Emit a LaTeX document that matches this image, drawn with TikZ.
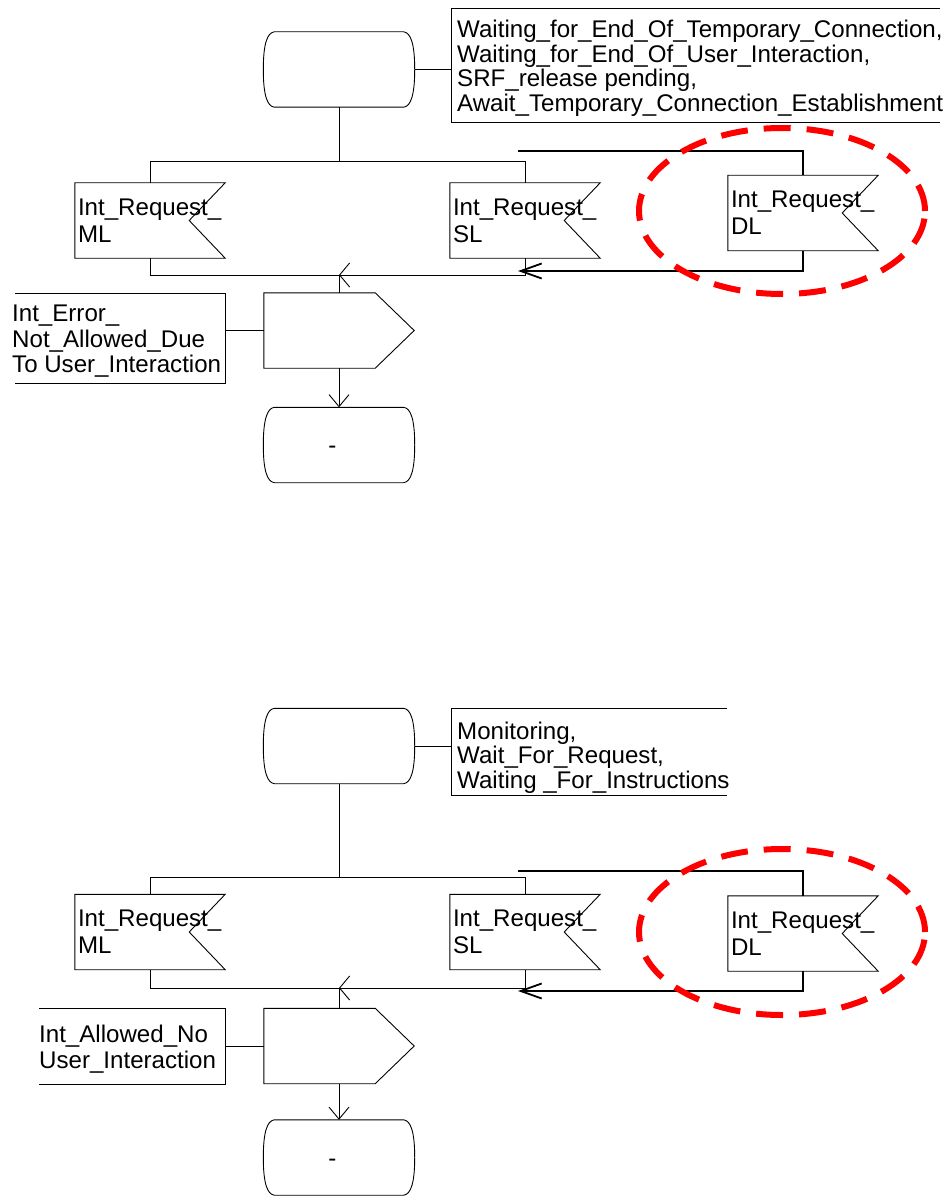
\documentclass[tikz,border=0pt]{standalone}
\usepackage{fontspec}
\setmainfont{Liberation Sans}
\usetikzlibrary{arrows.meta,calc}

\tikzset{
  every node/.style={font=\fontsize{24.1}{24.6}\selectfont},
  ln/.style={line width=0.9pt, draw=black},
  dl/.style={line width=1.8pt, draw=black},
  statebox/.style={minimum width=151pt, minimum height=75pt, inner sep=0pt,
    text height=17pt, text depth=0pt},
  frm/.style={anchor=north west, inner sep=0pt},
  cmtxt/.style={align=left, inner sep=0pt, anchor=west},
  etxt/.style={cmtxt, font=\fontsize{24.1}{25.5}\selectfont},
  insym/.style={align=left, text width=144pt, inner xsep=3pt, inner ysep=0pt,
    minimum height=75pt, font=\fontsize{24.1}{27}\selectfont},
  outsym/.style={minimum width=150pt, minimum height=75pt, inner sep=0pt},
  downarr/.style={-{Straight Barb[length=12pt,width=20pt]}},
  mergearr/.style={-{Straight Barb[length=10pt,width=24pt]}},
  retarr/.style={-{Straight Barb[length=21pt,width=15pt]}},
  hilite/.style={draw=red, line width=6pt, dash pattern=on 27pt off 16pt},
}

\newcommand\StateSym[4]{%
  \node[statebox] (#1) at (#2,#3) {#4};
  \draw[ln] ($(#1.north west)+(11,0)$) -- ($(#1.north east)+(-11,0)$)
    .. controls ($(#1.north east)+(-4,1)$) and ($(#1.east)+(0,-26)$) .. (#1.east)
    .. controls ($(#1.east)+(0,26)$) and ($(#1.south east)+(-4,-1)$) .. ($(#1.south east)+(-11,0)$)
    -- ($(#1.south west)+(11,0)$)
    .. controls ($(#1.south west)+(4,-1)$) and ($(#1.west)+(0,26)$) .. (#1.west)
    .. controls ($(#1.west)+(0,-26)$) and ($(#1.north west)+(4,1)$) .. cycle;}
\newcommand\InSym[4]{%
  \node[insym] (#1) at (#2,#3) {#4};
  \draw[ln] (#1.north west) -- (#1.north east) -- ([xshift=-36pt]#1.east)
    -- (#1.south east) -- (#1.south west) -- cycle;}
\newcommand\OutSym[3]{%
  \node[outsym] (#1) at (#2,#3) {};
  \draw[ln] (#1.north west) -- ([xshift=-39pt]#1.north east) -- (#1.east)
    -- ([xshift=-39pt]#1.south east) -- (#1.south west) -- cycle;}

\begin{document}
\begin{tikzpicture}[x=1pt,y=-1pt]
\useasboundingbox (0,0) rectangle (950,1198);

% ================= upper diagram =================
\StateSym{st1}{339}{69.5}{}
\node[frm, minimum width=489pt, minimum height=114pt] (c1) at (451,8) {};
\node[cmtxt] (c1t) at ($(c1.west)+(6,3)$)
  {Waiting\_for\_End\_Of\_Temporary\_Connection,\\
   Waiting\_for\_End\_Of\_User\_Interaction,\\
   SRF\_release pending,\\
   Await\_Temporary\_Connection\_Establishment};
\draw[ln] (c1.north east) -- (c1.north west) -- (c1.south west) -- (c1.south east);
\draw[ln] (st1.east) -- (st1.east -| c1.west);

\InSym{ml1}{150}{220.5}{Int\_Request\_\\ML}
\InSym{sl1}{525}{220.5}{Int\_Request\_\\SL}
\InSym{dl1}{803}{213}{Int\_Request\_\\DL}

\coordinate (b1) at (339,161);
\draw[ln] (st1.south) -- (b1);
\draw[ln] (ml1.north) -- (ml1.north |- b1) -- (sl1.north |- b1) -- (sl1.north);

\coordinate (dt1) at (518,151);
\draw[dl] (dl1.north) -- (dl1.north |- dt1) -- (dt1);
\coordinate (dr1) at (518,271);
\draw[dl,retarr] (dl1.south) -- (dl1.south |- dr1) -- (dr1);

\OutSym{out1}{339}{330.5}
\coordinate (m1) at (339,275);
\draw[ln] (ml1.south) |- (m1);
\draw[ln,mergearr] (sl1.south) |- (m1);
\draw[ln] (m1) -- (out1.north);

\node[frm, minimum width=210pt, minimum height=90pt] (e1) at (15,293) {};
\node[etxt] (e1t) at ($(e1.west)+(-3,3)$)
  {Int\_Error\_\\Not\_Allowed\_Due\\To User\_Interaction};
\draw[ln] (e1.north west) -- (e1.north east) -- (e1.south east) -- (e1.south west);
\draw[ln] (out1.west) -- (out1.west -| e1.east);

\StateSym{st2}{339}{445}{-\hspace*{13pt}}
\draw[ln,downarr] (out1.south) -- (st2.north);

\draw[hilite] (782,211) ellipse [x radius=143pt, y radius=83pt];

% ================= lower diagram =================
\StateSym{st3}{339}{746}{}
\node[frm, minimum width=276pt, minimum height=87pt] (c2) at (451,708) {};
\node[cmtxt] (c2t) at ($(c2.west)+(6,6)$)
  {Monitoring,\\
   Wait\_For\_Request,\\
   Waiting \_For\_Instructions};
\draw[ln] (c2.north east) -- (c2.north west) -- (c2.south west) -- (c2.south east);
\draw[ln] (st3.east) -- (st3.east -| c2.west);

\InSym{ml2}{150}{932}{Int\_Request\_\\ML}
\InSym{sl2}{525}{932}{Int\_Request\_\\SL}
\InSym{dl2}{803}{933.5}{Int\_Request\_\\DL}

\coordinate (b2) at (339,877);
\draw[ln] (st3.south) -- (b2);
\draw[ln] (ml2.north) -- (ml2.north |- b2) -- (sl2.north |- b2) -- (sl2.north);

\coordinate (dt2) at (518,871);
\draw[dl] (dl2.north) -- (dl2.north |- dt2) -- (dt2);
\coordinate (dr2) at (518,991);
\draw[dl,retarr] (dl2.south) -- (dl2.south |- dr2) -- (dr2);

\OutSym{out2}{339}{1046}
\coordinate (m2) at (339,988);
\draw[ln] (ml2.south) |- (m2);
\draw[ln,mergearr] (sl2.south) |- (m2);
\draw[ln] (m2) -- (out2.north);

\node[frm, minimum width=186pt, minimum height=76pt] (e2) at (39,1008) {};
\node[etxt] (e2t) at ($(e2.west)+(0,3)$)
  {Int\_Allowed\_No\\User\_Interaction};
\draw[ln] (e2.north west) -- (e2.north east) -- (e2.south east) -- (e2.south west);
\draw[ln] (out2.west) -- (out2.west -| e2.east);

\StateSym{st4}{339}{1157.5}{-\hspace*{13pt}}
\draw[ln,downarr] (out2.south) -- (st4.north);

\draw[hilite] (782,932) ellipse [x radius=143pt, y radius=83pt];
\end{tikzpicture}
\end{document}
